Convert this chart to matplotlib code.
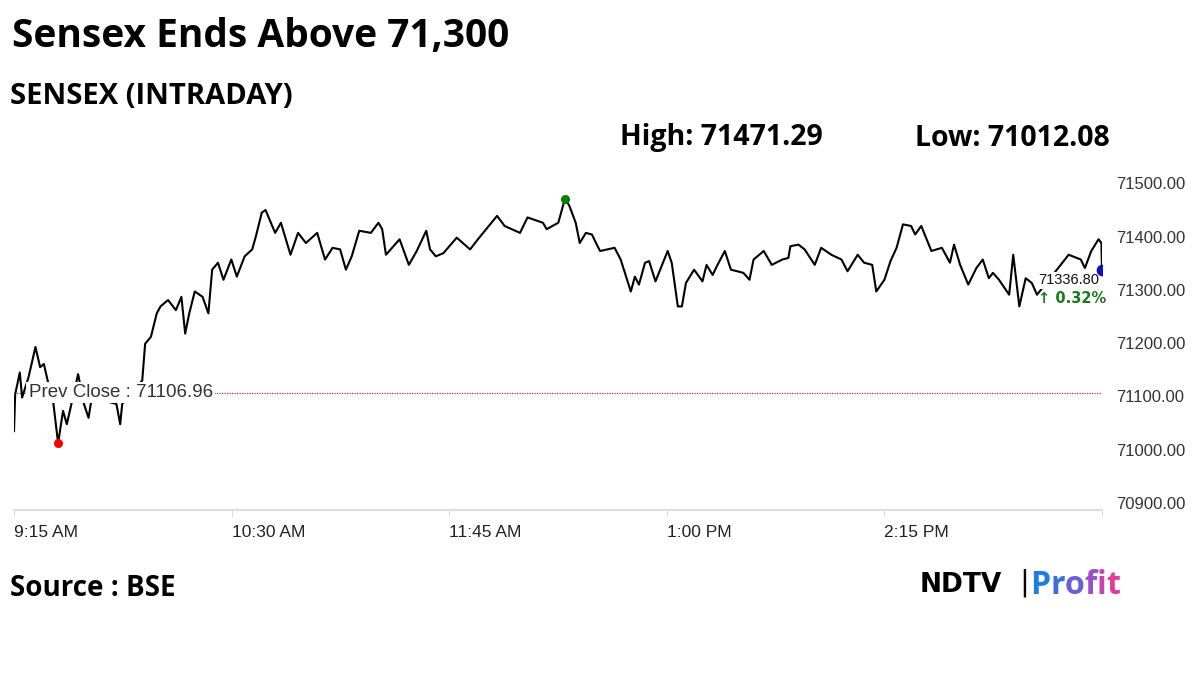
import matplotlib
matplotlib.use("Agg")
import matplotlib.pyplot as plt

# minutes after 9:15 and Sensex level
minutes = [0, 0.4, 2.0, 2.8, 5.0, 7.4, 9.0, 10.3, 11.6, 13.6, 15.2, 16.9, 18.2, 19.5, 22.1, 24.1,
           25.7, 26.8, 35.3, 36.6, 37.3, 44.2, 45.2, 47.2, 49.2, 50.5, 53.1, 55.8, 57.7, 59.0, 60.4,
           62.3, 65.0, 67.0, 68.3, 70.3, 72.2, 74.9, 76.8, 79.5, 82.1, 83.4, 85.4, 86.7, 88.0, 90.0,
           92.0, 95.3, 97.9, 100.6, 104.5, 107.2, 109.8, 112.4, 114.4, 116.4, 119.0, 123.0, 125.6,
           126.9, 128.2, 132.9, 136.1, 138.8, 142.1, 143.4, 145.4, 148.0, 152.6, 157.2, 159.9, 163.2,
           166.5, 169.1, 174.4, 177.0, 182.3, 183.6, 187.6, 189.9, 191.4, 193.6, 195.0, 197.1, 199.2,
           200.6, 202.0, 207.0, 209.1, 212.6, 214.0, 215.4, 217.5, 218.9, 221.1, 225.3, 226.7, 228.8,
           230.2, 231.6, 234.4, 237.3, 238.7, 240.8, 242.2, 245.0, 247.1, 251.4, 253.5, 254.9, 258.4,
           261.2, 264.8, 266.9, 267.6, 270.4, 272.5, 276.0, 278.2, 281.7, 285.2, 287.3, 290.8, 293.0,
           295.8, 297.2, 300.0, 302.1, 304.2, 306.4, 309.2, 310.6, 312.7, 316.2, 319.8, 322.6, 324.0,
           326.1, 328.9, 331.7, 333.9, 336.0, 337.4, 339.5, 343.0, 344.4, 346.5, 348.7, 350.8, 352.6,
           359.9, 363.5, 367.7, 369.1, 371.3, 373.8, 374.8, 375.0]
values = [71035, 71104, 71145, 71098, 71136, 71193, 71155, 71161, 71130, 71086, 71012.08, 71073,
          71048, 71079, 71142, 71086, 71060, 71098, 71086, 71048, 71086, 71130, 71199, 71212, 71256,
          71269, 71281, 71262, 71287, 71218, 71256, 71297, 71287, 71256, 71338, 71351, 71319, 71357,
          71325, 71363, 71376, 71401, 71445, 71450, 71433, 71407, 71426, 71366, 71407, 71388, 71407,
          71357, 71379, 71376, 71338, 71363, 71411, 71407, 71426, 71414, 71366, 71395, 71347, 71373,
          71411, 71376, 71363, 71369, 71398, 71376, 71395, 71417, 71439, 71420, 71407, 71436, 71426,
          71414, 71426, 71471.29, 71458, 71426, 71388, 71407, 71404, 71388, 71373, 71379, 71357,
          71297, 71325, 71310, 71351, 71354, 71316, 71373, 71351, 71269, 71269, 71313, 71338, 71316,
          71347, 71328, 71344, 71373, 71338, 71332, 71319, 71357, 71373, 71347, 71357, 71360, 71382,
          71385, 71376, 71347, 71379, 71366, 71357, 71335, 71366, 71351, 71347, 71297, 71319, 71354,
          71379, 71423, 71420, 71404, 71420, 71373, 71379, 71351, 71385, 71347, 71310, 71341, 71357,
          71322, 71332, 71319, 71291, 71366, 71269, 71322, 71313, 71291, 71341, 71366, 71357, 71341,
          71373, 71395, 71388, 71336.80]

prev_close = 71106.96
high_val, high_t = 71471.29, 189.9
low_val, low_t = 71012.08, 15.2
last_val, change = 71336.80, "0.32%"
x_ticks = [0, 75, 150, 225, 300, 375]
x_labels = ["9:15 AM", "10:30 AM", "11:45 AM", "1:00 PM", "2:15 PM", ""]
y_ticks = [70900, 71000, 71100, 71200, 71300, 71400, 71500]

W, H = 1200, 675
fig = plt.figure(figsize=(12, 6.75), dpi=100)
ax = fig.add_axes([14 / W, (H - 510) / H, 1088 / W, 340 / H])

ax.plot(minutes, values, color="black", lw=1.5, zorder=3)
ax.axhline(prev_close, color="#d03030", lw=0.9, ls=(0, (1, 1)), zorder=2)
ax.scatter([low_t], [low_val], color="red", s=30, zorder=6)
ax.scatter([high_t], [high_val], color="green", s=30, zorder=6)
ax.scatter([minutes[-1]], [last_val], color="#1010c0", s=55, zorder=6)

ax.set_xlim(0, 375)
ax.set_ylim(70887, 71525)
ax.set_xticks(x_ticks)
ax.set_xticklabels(x_labels, fontsize=12.5, fontfamily="Liberation Sans", color="#222222", ha="left")
ax.set_yticks(y_ticks)
ax.set_yticklabels([f"{v:.2f}" for v in y_ticks], fontsize=12, fontfamily="Liberation Sans",
                   color="#333333")
ax.yaxis.tick_right()
ax.tick_params(axis="y", length=0, pad=10)
ax.tick_params(axis="x", length=5, color="#dddddd", pad=6)
for s in ["top", "left", "right"]:
    ax.spines[s].set_visible(False)
ax.spines["bottom"].set_color("#dddddd")
ax.spines["bottom"].set_linewidth(1.5)

ax.text(5, prev_close, "Prev Close : 71106.96", fontsize=13.5, fontfamily="Liberation Sans",
        color="#333333", va="center", zorder=5,
        bbox=dict(facecolor="white", edgecolor="none", pad=1.5))
ax.text(353, 71318, f"{last_val:.2f}", fontsize=10.5, fontfamily="Liberation Sans", color="#111111",
        va="center", zorder=5, bbox=dict(facecolor="white", edgecolor="none", pad=1))
ax.text(353, 71284, "\u2191 " + change, fontsize=10.5, fontfamily="DejaVu Sans", color="#1a7a1a",
        va="center", weight="bold", zorder=5)

fam = ["Open Sans", "DejaVu Sans"]
fig.text(12 / W, 1 - 36 / H, "Sensex Ends Above 71,300", fontsize=28, weight="bold", family=fam,
         va="center")
fig.text(10 / W, 1 - 96 / H, "SENSEX (INTRADAY)", fontsize=21, weight="bold", family=fam, va="center")
fig.text(620 / W, 1 - 138 / H, f"High: {high_val:.2f}", fontsize=20.5, weight="bold", family=fam,
         va="center")
fig.text(915 / W, 1 - 138 / H, f"Low: {low_val:.2f}", fontsize=20.5, weight="bold", family=fam,
         va="center")
fig.text(10 / W, 1 - 588 / H, "Source : BSE", fontsize=20, weight="bold", family=fam, va="center")

fig.text(920 / W, 1 - 585 / H, "NDTV", fontsize=19, weight="black", family="DejaVu Sans",
         va="center", color="black")
fig.text(1019 / W, 1 - 583 / H, "|", fontsize=21, family="DejaVu Sans", va="center", color="black")
logo_colors = ["#1a7fe0", "#3a6fe0", "#6a5fd8", "#9a50c8", "#c845b0", "#e03c98"]
renderer = fig.canvas.get_renderer()
xpos = 1030
for ch, c in zip("Profit", logo_colors):
    t = fig.text(xpos / W, 1 - 585 / H, ch, fontsize=23, weight="bold", family=fam,
                 va="center", color=c)
    xpos += t.get_window_extent(renderer).width

fig.savefig("out.png", dpi=100)
